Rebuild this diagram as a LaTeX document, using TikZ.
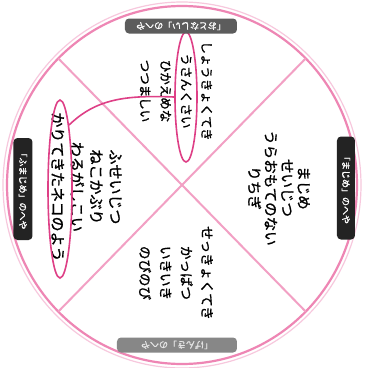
\documentclass[tikz,border=0pt]{standalone}
\usepackage{fontspec}
\newfontfamily\jp{Noto Sans CJK JP}
\newfontfamily\jpb[FakeBold=1.2]{Noto Sans CJK JP}
\usetikzlibrary{shapes.geometric}
\definecolor{ringpink}{HTML}{EE86B4}
\definecolor{xpink}{HTML}{F2A0C4}
\definecolor{ovalpink}{HTML}{DE3F86}
\definecolor{labdark}{HTML}{232323}
\definecolor{labmid}{HTML}{5C5C5C}
\definecolor{lablight}{HTML}{878787}
\tikzset{
  quad/.style={rotate=-90, align=center, inner sep=0pt, text=black},
  roomlabel/.style={rounded corners=4pt, inner sep=0pt, font=\jpb\fontsize{9}{10}\selectfont, text=white},
  oval/.style={ellipse, draw=ovalpink, line width=1.6pt, inner sep=0pt},
  link/.style={draw=ovalpink, line width=1.6pt},
}
\begin{document}
\begin{tikzpicture}[x=1pt,y=-1pt]
\useasboundingbox (0,0) rectangle (365,368);
\fill[white] (0,0) rectangle (365,368);
% ring
\coordinate (c) at (182,185);
\draw[ringpink!45, line width=1.2pt] (c) ellipse [x radius=179, y radius=183];
\draw[ringpink, line width=2.2pt] (c) ellipse [x radius=175, y radius=179];
% X
\draw[xpink, line width=2pt] (182+123.7,185-126.6) -- (182-123.7,185+126.6);
\draw[xpink, line width=2pt] (182-123.7,185-126.6) -- (182+123.7,185+126.6);
% quadrant texts
\node[quad, font=\jpb\fontsize{12.5}{20.5}\selectfont] (qtop) at (176,91)
  {しょうきょくてき\\うさんくさい\\ひかえめな\\つつましい};
\node[quad, font=\jpb\fontsize{14.5}{16.5}\selectfont] (qright) at (279,188)
  {まじめ\\せいじつ\\うらおもてのない\\りちぎ};
\node[quad, font=\jpb\fontsize{15}{19.3}\selectfont] (qleft) at (86.5,187)
  {ふせいじつ\\ねこかぶり\\わるがしこい\\かりてきたネコのよう};
\node[quad, font=\jpb\fontsize{13.5}{20.7}\selectfont] (qbot) at (176,273)
  {せっきょくてき\\かっぱつ\\いきいき\\のびのび};
% ovals and link
\node[oval, minimum width=22pt, minimum height=130pt] (ovtop) at (186,97) {};
\node[oval, minimum width=24pt, minimum height=178pt] (ovleft) at (60,189) {};
\draw[link] (ovtop.west) .. controls (125,95) and (96,99) .. (ovleft.82);
% room labels
\node[roomlabel, fill=labmid, rotate=180, minimum width=112pt, minimum height=15pt] (ltop) at (181,26) {「おとなしい」のへや};
\node[roomlabel, fill=lablight, text=white!90!black, rotate=180, minimum width=120pt, minimum height=15pt] (lbot) at (177,345) {「げんき」のへや};
\node[roomlabel, fill=labdark, rotate=-90, minimum width=102pt, minimum height=19pt] (lleft) at (23,189) {「ふまじめ」のへや};
\node[roomlabel, fill=labdark, rotate=-90, minimum width=103pt, minimum height=18pt] (lright) at (346,188) {「まじめ」のへや};
\end{tikzpicture}
\end{document}
